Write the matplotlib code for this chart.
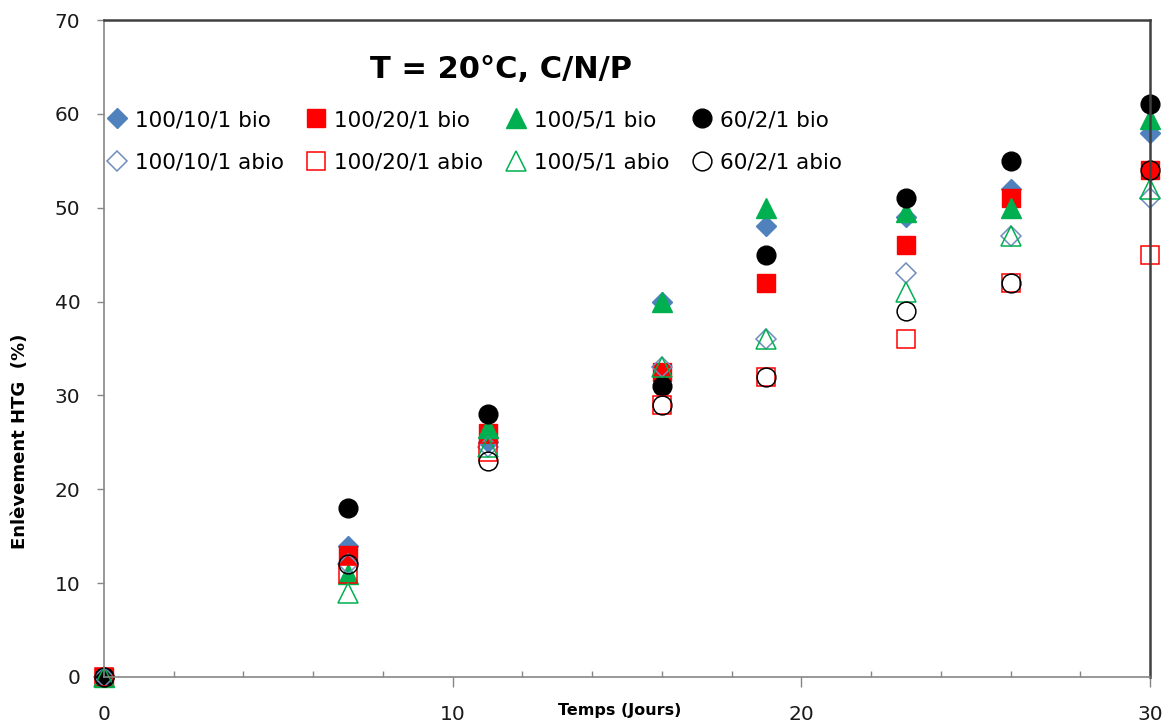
import numpy as np
import matplotlib.pyplot as plt
from matplotlib.ticker import MultipleLocator

# Sampling days
jours = [0, 7, 11, 16, 19, 23, 26, 30]

# HTG removal (%), biotic reactors
bio_100_10_1 = [0, 14, 25, 40, 48, 49, 52, 58]
bio_100_20_1 = [0, 13, 26, 32.5, 42, 46, 51, 54]
bio_100_5_1 = [0, 11, 26.5, 40, 50, 49.5, 50, 59.5]
bio_60_2_1 = [0, 18, 28, 31, 45, 51, 55, 61]

# HTG removal (%), abiotic controls
abio_100_10_1 = [0, 12, 24.5, 33, 36, 43, 47, 51]
abio_100_20_1 = [0, 11, 24, 29, 32, 36, 42, 45]
abio_100_5_1 = [0, 9, 24.5, 33, 36, 41, 47, 52]
abio_60_2_1 = [0, 12, 23, 29, 32, 39, 42, 54]

BLUE = '#4F81BD'
RED = '#FF0000'
GREEN = '#00B050'
BLACK = '#000000'

fig = plt.figure(figsize=(11.7, 7.26), dpi=100)
ax = fig.add_axes([104 / 1170, 1 - 677 / 726, 1046 / 1170, 657 / 726])

kw = dict(linestyle='none', clip_on=False)
series = [
    (bio_100_10_1, dict(marker='D', ms=10, color=BLUE, mec=BLUE), '100/10/1 bio'),
    (bio_100_20_1, dict(marker='s', ms=12.5, color=RED, mec=RED), '100/20/1 bio'),
    (bio_100_5_1, dict(marker='^', ms=14, color=GREEN, mec=GREEN), '100/5/1 bio'),
    (bio_60_2_1, dict(marker='o', ms=13.5, color=BLACK, mec=BLACK), '60/2/1 bio'),
    (abio_100_10_1, dict(marker='D', ms=10, mfc='none', mec='#6F8DBF', mew=1.1), '100/10/1 abio'),
    (abio_100_20_1, dict(marker='s', ms=12.5, mfc='none', mec=RED, mew=1.1), '100/20/1 abio'),
    (abio_100_5_1, dict(marker='^', ms=14, mfc='none', mec=GREEN, mew=1.1), '100/5/1 abio'),
    (abio_60_2_1, dict(marker='o', ms=13.5, mfc='none', mec=BLACK, mew=1.1), '60/2/1 abio'),
]

handles = []
for vals, style, label in series:
    h, = ax.plot(jours, vals, label=label, **kw, **style)
    handles.append(h)

ax.set_xlim(0, 30)
ax.set_ylim(0, 70)
ax.xaxis.set_major_locator(MultipleLocator(10))
ax.xaxis.set_minor_locator(MultipleLocator(2))
ax.yaxis.set_major_locator(MultipleLocator(10))

ax.tick_params(axis='x', which='major', direction='out', length=7, width=1,
               color='#868686', labelsize=14.5, pad=13)
ax.tick_params(axis='x', which='minor', direction='in', length=4, width=1,
               color='#868686')
ax.tick_params(axis='y', which='major', direction='out', length=5, width=1,
               color='#868686', labelsize=14.5, pad=12)
for lab in ax.get_xticklabels() + ax.get_yticklabels():
    lab.set_color('#1a1a1a')

for side in ('left', 'bottom'):
    ax.spines[side].set_color('#868686')
    ax.spines[side].set_linewidth(1.2)
for side in ('top', 'right'):
    ax.spines[side].set_color('#404040')
    ax.spines[side].set_linewidth(1.8)

ax.set_xlabel('Temps (Jours)', fontsize=11.5, fontweight='bold')
ax.xaxis.set_label_coords(0.493, -0.039)
ax.set_ylabel('Enlèvement HTG  (%)', fontsize=13, fontweight='bold')
ax.yaxis.set_label_coords(-0.072, 0.358)

ax.text(0.38, 0.925, 'T = 20°C, C/N/P', transform=ax.transAxes,
        fontsize=22, fontweight='bold', ha='center', va='center')

# legend filled row-wise: bio entries on top, abio entries below
order = [0, 4, 1, 5, 2, 6, 3, 7]
ax.legend([handles[i] for i in order], [series[i][2] for i in order],
          ncol=4, loc='upper left', bbox_to_anchor=(108 / 1170, 1 - 110 / 726),
          bbox_transform=fig.transFigure, frameon=False, fontsize=15.5,
          handlelength=0.8, handletextpad=0.45, columnspacing=1.1,
          labelspacing=1.05, borderpad=0, borderaxespad=0, markerscale=1.0)

fig.savefig('out.png', dpi=100)
